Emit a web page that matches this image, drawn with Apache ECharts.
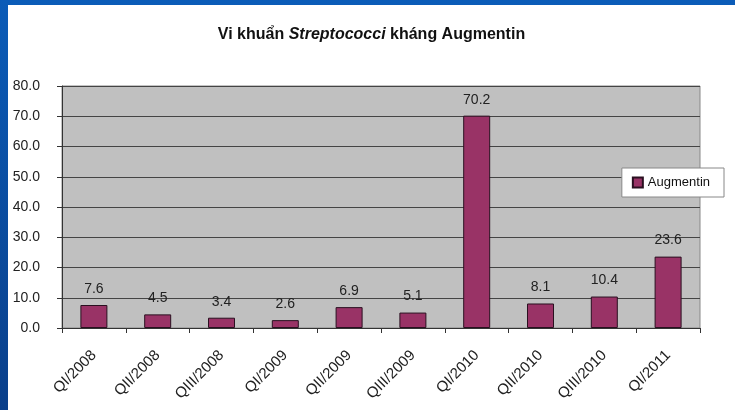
<!DOCTYPE html>
<html>
<head>
<meta charset="utf-8">
<script src="https://cdn.jsdelivr.net/npm/echarts@6/dist/echarts.min.js"></script>
<style>
  html, body { margin: 0; padding: 0; width: 735px; height: 410px; overflow: hidden;
    background: linear-gradient(180deg, #0b5cb8 0%, #0a3f8a 100%); }
  #chart { position: absolute; left: 8px; top: 5px; width: 727px; height: 405px; background: #fff; }
</style>
</head>
<body>
<div id="chart"></div>
<script>
let quarters = ["QI/2008", "QII/2008", "QIII/2008", "QI/2009", "QII/2009",
    "QIII/2009", "QI/2010", "QII/2010", "QIII/2010", "QI/2011"];
let augmentin = [7.6, 4.5, 3.4, 2.6, 6.9, 5.1, 70.2, 8.1, 10.4, 23.6];
let seriesName = "Augmentin";

let myChart = echarts.init(document.getElementById('chart'));
let option = {
    animation: false,
    textStyle: { fontFamily: 'Liberation Sans, Arial, sans-serif' },
    title: {
        text: '{n|Vi khuẩn }{i|Streptococci}{n| kháng Augmentin}',
        left: 'center',
        top: 17,
        textStyle: {
            rich: {
                n: { fontSize: 16, fontWeight: 'bold', color: '#111' },
                i: { fontSize: 16, fontWeight: 'bold', fontStyle: 'italic', color: '#111' }
            }
        }
    },
    legend: {
        data: [seriesName],
        right: 11,
        top: 163,
        orient: 'vertical',
        itemWidth: 10,
        itemHeight: 10,
        itemGap: 4,
        icon: 'rect',
        padding: [8, 14, 8, 10],
        backgroundColor: '#fff',
        borderColor: '#888',
        borderWidth: 1,
        textStyle: { fontSize: 13, color: '#111' }
    },
    grid: {
        left: 54, right: 35, top: 81, bottom: 82,
        show: true,
        backgroundColor: '#c0c0c0',
        borderColor: '#888',
        borderWidth: 1
    },
    xAxis: {
        type: 'category',
        data: quarters,
        axisLine: { lineStyle: { color: '#333' } },
        axisTick: { show: true, length: 5, lineStyle: { color: '#333' } },
        axisLabel: { rotate: 45, fontSize: 15, color: '#222', margin: 25, interval: 0 }
    },
    yAxis: {
        type: 'value',
        min: 0, max: 80, interval: 10,
        axisLine: { show: true, lineStyle: { color: '#333' } },
        axisTick: { show: true, length: 5, lineStyle: { color: '#333' } },
        axisLabel: { fontSize: 14, color: '#222', margin: 22,
            formatter: function (v) { return v.toFixed(1); } },
        splitLine: { lineStyle: { color: '#444', width: 1 } }
    },
    series: [{
        name: seriesName,
        type: 'bar',
        data: augmentin,
        barWidth: 27,
        itemStyle: { color: '#993366', borderColor: '#2a1020', borderWidth: 1 },
        label: {
            show: true,
            position: 'top',
            distance: 9,
            fontSize: 14,
            color: '#222',
            formatter: function (p) { return p.value.toFixed(1); }
        }
    }]
};
myChart.setOption(option);
</script>
</body>
</html>
